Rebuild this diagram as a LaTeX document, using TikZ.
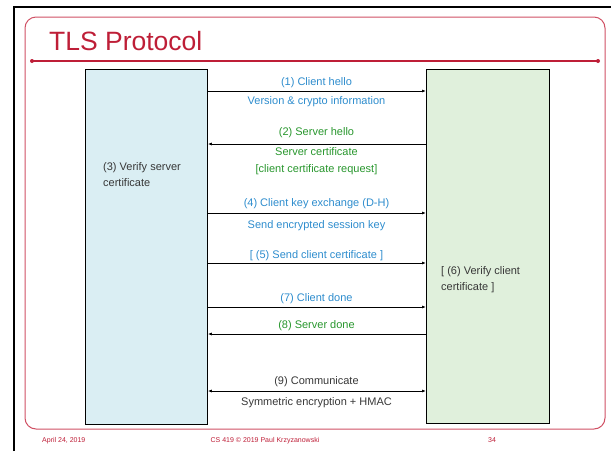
\documentclass[tikz,border=0pt]{standalone}
\usepackage{fontspec}
\setmainfont{Liberation Sans}
\usetikzlibrary{arrows.meta, positioning, calc}

\definecolor{slidered}{RGB}{190,30,55}
\definecolor{framered}{RGB}{208,80,100}
\definecolor{msgblue}{RGB}{45,140,205}
\definecolor{msggreen}{RGB}{40,150,45}
\definecolor{clientfill}{RGB}{218,238,243}
\definecolor{serverfill}{RGB}{224,240,220}
\definecolor{notegray}{RGB}{55,55,55}

\begin{document}
\begin{tikzpicture}[x=1pt, y=-1pt, font=\fontsize{11}{16}\selectfont]
  \tikzstyle{party} = [draw, line width=0.8pt, anchor=north west, inner sep=0pt]
  \tikzstyle{msg} = [line width=0.8pt, -{Latex[length=4pt,width=3pt]}]
  \tikzstyle{lbl} = [anchor=base, inner sep=0pt]
  \tikzstyle{note} = [anchor=west, align=left, inner sep=0pt, text=notegray]
  \tikzstyle{foot} = [anchor=base, inner sep=0pt, text=slidered, font=\fontsize{7}{8}\selectfont]
  \useasboundingbox (0,0) rectangle (611,451);

  % slide frame and title
  \draw[line width=2pt] (14,451) -- (14,6.5) -- (611,6.5);
  \draw[framered, line width=1pt, rounded corners=11pt] (25,17) rectangle (605,429);
  \node[anchor=base west, inner sep=0pt, text=slidered, font=\fontsize{26.5}{30}\selectfont] (title) at (49,50) {TLS Protocol};
  \draw[slidered, line width=1.2pt] (32,61) -- (598,61);
  \fill[slidered] (32,61) circle (2pt) (598,61) circle (2pt);

  % client and server
  \node[party, fill=clientfill, minimum width=122pt, minimum height=355pt] (client) at (85,69) {};
  \node[party, fill=serverfill, minimum width=123pt, minimum height=354pt] (server) at (426,69) {};
  \node[note] (verifysrv) at (103,175) {(3) Verify server\\certificate};
  \node[note] (verifycli) at (441,280) {[ (6) Verify client\\certificate ]};

  % handshake messages
  \draw[msg] (client.east |- 0,91) -- (server.west |- 0,91);
  \node[lbl, text=msgblue] (hello) at (316.5,85) {(1) Client hello};
  \node[lbl, text=msgblue] (version) at (316.5,104) {Version \& crypto information};

  \draw[msg] (server.west |- 0,144) -- (client.east |- 0,144);
  \node[lbl, text=msggreen] (srvhello) at (316.5,135) {(2) Server hello};
  \node[lbl, text=msggreen] (srvcert) at (316.5,155) {Server certificate};
  \node[lbl, text=msggreen] (certreq) at (316.5,172) {[client certificate request]};

  \draw[msg] (client.east |- 0,213) -- (server.west |- 0,213);
  \node[lbl, text=msgblue] (keyx) at (316.5,206) {(4) Client key exchange (D-H)};
  \node[lbl, text=msgblue] (sesskey) at (316.5,228) {Send encrypted session key};

  \draw[msg] (client.east |- 0,263) -- (server.west |- 0,263);
  \node[lbl, text=msgblue] (clicert) at (316.5,258) {[ (5) Send client certificate ]};

  \draw[msg] (client.east |- 0,307) -- (server.west |- 0,307);
  \node[lbl, text=msgblue] (clidone) at (316.5,301) {(7) Client done};

  \draw[msg] (server.west |- 0,334) -- (client.east |- 0,334);
  \node[lbl, text=msggreen] (srvdone) at (316.5,328) {(8) Server done};

  % application data
  \draw[msg, {Latex[length=4pt,width=3pt]}-{Latex[length=4pt,width=3pt]}] (client.east |- 0,391) -- (server.west |- 0,391);
  \node[lbl, text=notegray] (comm) at (316.5,384) {(9) Communicate};
  \node[lbl, text=notegray] (symenc) at (316.5,405) {Symmetric encryption + HMAC};

  % footer
  \node[foot, anchor=base west] (date) at (42,442) {April 24, 2019};
  \node[foot] (course) at (265,442) {CS 419 \textcopyright{} 2019 Paul Krzyzanowski};
  \node[foot] (page) at (492,442) {34};
\end{tikzpicture}
\end{document}
